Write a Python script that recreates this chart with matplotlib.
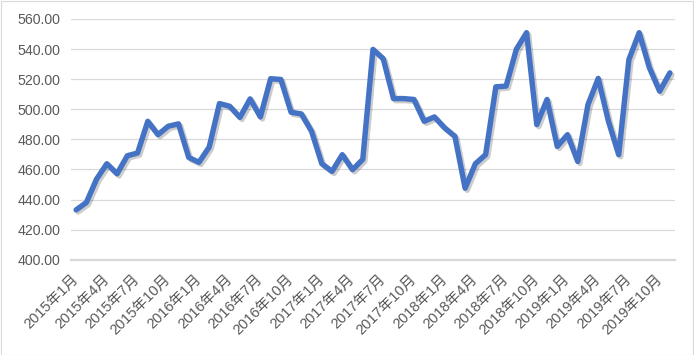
import matplotlib
matplotlib.use("Agg")
import matplotlib.pyplot as plt
import matplotlib.patheffects as pe
from matplotlib.patches import Rectangle
from matplotlib.transforms import ScaledTranslation

years = [2015, 2016, 2017, 2018, 2019]
months = list(range(1, 13))
categories = [f"{y}年{m}月" for y in years for m in months][:59]

values = [
    433.1, 438.0, 453.6, 463.8, 457.1, 469.1, 470.9, 492.0, 483.1, 488.7, 490.3, 468.0,
    464.7, 474.9, 503.8, 502.0, 494.6, 506.9, 494.9, 520.3, 519.8, 498.0, 496.9, 485.3,
    463.8, 458.7, 469.8, 459.8, 466.7, 539.8, 533.6, 507.1, 507.1, 506.5, 492.0, 494.9,
    487.6, 482.0, 447.5, 463.8, 469.8, 514.9, 515.4, 539.8, 550.9, 489.8, 506.5, 475.3,
    483.1, 465.3, 503.1, 520.5, 492.0, 469.8, 533.1, 550.9, 527.6, 512.0, 524.2,
]

y_ticks = [400, 420, 440, 460, 480, 500, 520, 540, 560]

W, H = 694, 355
fig = plt.figure(figsize=(W / 100, H / 100), dpi=100)
fig.patch.set_facecolor("white")
fig.patches.append(Rectangle((0.5 / W, 0.5 / H), 1 - 1.5 / W, 1 - 1.5 / H,
                             transform=fig.transFigure, fill=False,
                             edgecolor="#D9D9D9", linewidth=0.8))

left, right = 71 / W, 675 / W
bottom, top = (H - 259.7) / H, (H - 19) / H
ax = fig.add_axes([left, bottom, right - left, top - bottom])

x = list(range(len(values)))
ax.plot(x, values, color="#4472C4", linewidth=3.9, solid_joinstyle="round",
        solid_capstyle="round", zorder=3,
        path_effects=[pe.SimpleLineShadow(offset=(1.5, -1.5), shadow_color="black", alpha=0.2),
                      pe.Normal()])

ax.set_xlim(-0.5, len(values) - 0.5)
ax.set_ylim(400, 560)
ax.set_yticks(y_ticks)
ax.set_yticklabels([f"{v:.2f}" for v in y_ticks])
ax.grid(axis="y", color="#D9D9D9", linewidth=0.9)
ax.set_axisbelow(True)
for s in ["top", "right", "left"]:
    ax.spines[s].set_visible(False)
ax.spines["bottom"].set_color("#D9D9D9")
ax.spines["bottom"].set_linewidth(1.6)

tick_idx = list(range(0, len(values), 3))
ax.set_xticks(tick_idx)
ax.set_xticklabels([categories[i] for i in tick_idx], rotation=45, ha="right",
                   va="center", rotation_mode="anchor",
                   family=["Liberation Sans", "Noto Sans CJK SC"], fontsize=10.5, color="#595959")
shift = ScaledTranslation(6 / 100, 0, fig.dpi_scale_trans)
for lab in ax.get_xticklabels():
    lab.set_transform(lab.get_transform() + shift)
for lab in ax.get_yticklabels():
    lab.set_family(["Liberation Sans", "DejaVu Sans"])
    lab.set_fontsize(10.2)
    lab.set_color("#595959")
ax.tick_params(axis="both", length=0)
ax.tick_params(axis="y", pad=7.5)
ax.tick_params(axis="x", pad=12.6)

fig.savefig("out.png", dpi=100, facecolor="white")
